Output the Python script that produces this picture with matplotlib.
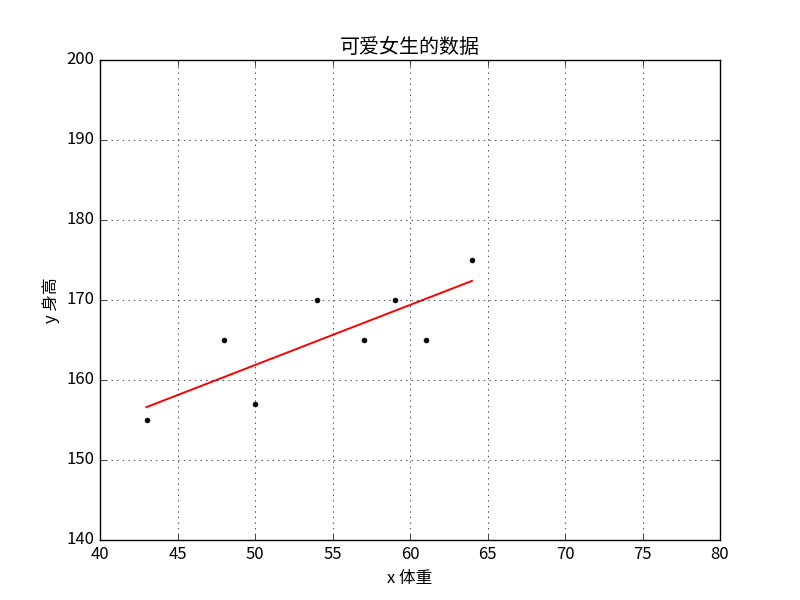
import matplotlib
matplotlib.use("Agg")
import matplotlib.pyplot as plt
import numpy as np

plt.style.use("classic")
plt.rcParams["font.family"] = ["Noto Sans CJK SC", "DejaVu Sans"]
plt.rcParams["axes.unicode_minus"] = False

# weight (kg) and height (cm)
weight = [43, 48, 50, 54, 57, 59, 61, 64]
height = [155, 165, 157, 170, 165, 170, 165, 175]

x = np.array(weight, dtype=float)
y = np.array(height, dtype=float)
slope, intercept = np.polyfit(x, y, 1)

fig = plt.figure(figsize=(8, 6), dpi=100)
ax = fig.add_subplot(111)
ax.plot(x, y, "k.", markersize=7)
ax.plot(x, slope * x + intercept, "r-", linewidth=1.4)
ax.set_xlim(40, 80)
ax.set_ylim(140, 200)
ax.set_title("可爱女生的数据")
ax.set_xlabel("x 体重")
ax.set_ylabel("y 身高")
ax.grid(True)

fig.savefig("out.png", dpi=100)
